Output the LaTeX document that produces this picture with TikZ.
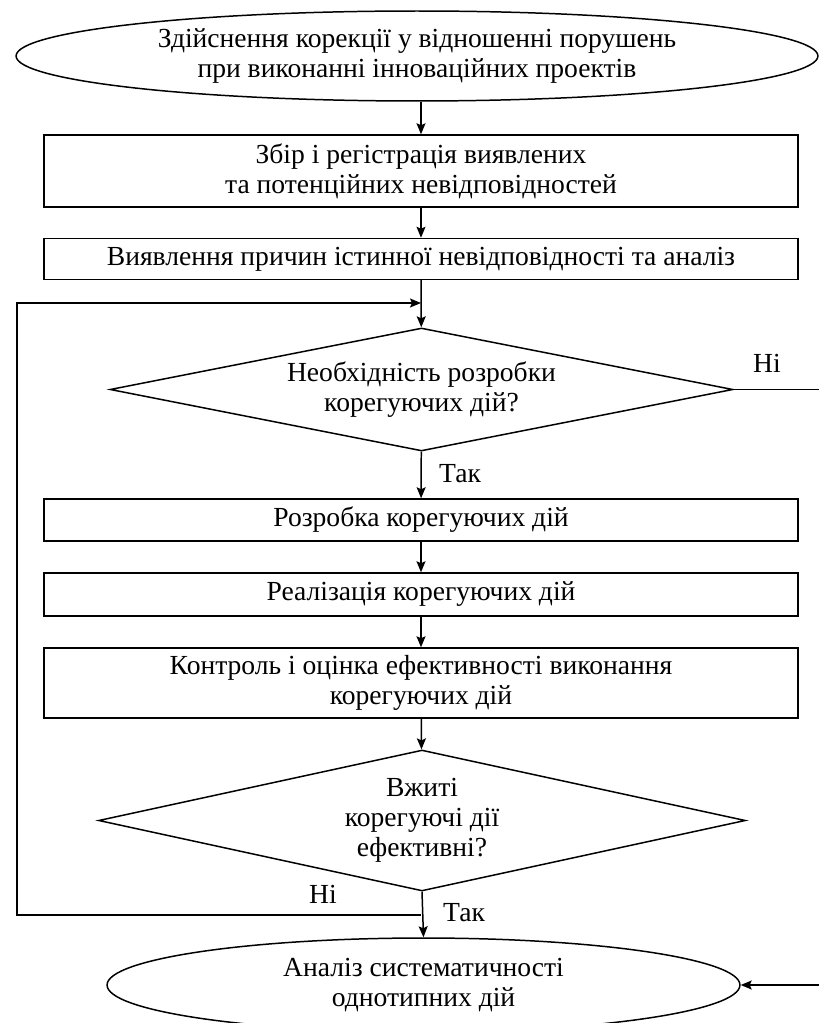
\documentclass[tikz,border=0pt]{standalone}
\usepackage{fontspec}
\setmainfont{Liberation Serif}
\usetikzlibrary{shapes.geometric,arrows.meta}
\begin{document}
\begin{tikzpicture}[x=0.02cm,y=-0.02cm,
  every node/.style={font=\fontsize{15.7}{17.2}\selectfont, align=center},
  line/.style={line width=0.85pt},
  arr/.style={line width=0.85pt,-{Stealth[length=2.2mm,width=1.8mm,inset=0.4mm]}},
  box/.style={draw, line width=0.85pt, rectangle, inner sep=0pt, minimum width=15.08cm},
  oval/.style={draw, line width=0.85pt, ellipse, inner sep=0pt},
  decision/.style={draw, line width=0.85pt, diamond, inner sep=0pt},
  lbl/.style={inner sep=0pt}]
\useasboundingbox (0,0) rectangle (818,1023);

\node[oval, minimum width=16.04cm, minimum height=1.8cm] (top) at (417,56)
  {Здійснення корекції у відношенні порушень\\при виконанні інноваційних проектів};
\node[box, minimum height=1.44cm] (b2) at (421,171)
  {Збір і регістрація виявлених\\та потенційних невідповідностей};
\node[box, minimum height=0.82cm] (b3) at (421,259)
  {Виявлення причин істинної невідповідності та аналіз};
\node[decision, shape aspect=5.07, minimum width=12.46cm, minimum height=2.46cm] (d1) at (421.5,389.5)
  {Необхідність розробки\\корегуючих дій?};
\node[box, minimum height=0.84cm] (b4) at (421,520)
  {Розробка корегуючих дій};
\node[box, minimum height=0.86cm] (b5) at (421,594.5)
  {Реалізація корегуючих дій};
\node[box, minimum height=1.4cm] (b6) at (421,683)
  {Контроль і оцінка ефективності виконання\\корегуючих дій};
\node[decision, shape aspect=4.59, minimum width=12.94cm, minimum height=2.82cm] (d2) at (422,820.5)
  {Вжиті\\корегуючі дії\\ефективні?};
\node[oval, minimum width=12.66cm, minimum height=1.88cm] (e2) at (423.5,985)
  {Аналіз систематичності\\однотипних дій};

\coordinate (m) at (421,303);
\coordinate (j) at (421,915);
\coordinate (jl) at (17,915);
\coordinate (ml) at (17,303);
\coordinate (rno) at (830,389.5);
\coordinate (rin) at (830,985);

\draw[arr] (b2.north |- top.south) -- (b2.north);
\draw[arr] (b2) -- (b3);
\draw[arr] (b3) -- (d1);
\draw[arr] (d1) -- (b4);
\draw[arr] (b4) -- (b5);
\draw[arr] (b5) -- (b6);
\draw[arr] (b6) -- (d2);
\draw[arr] (d2.south) -- (e2.north);
\draw[arr] (j) -- (jl) -- (ml) -- (m);
\draw[line] (d1.east) -- (rno);
\draw[arr] (rin) -- (e2.east);

\node[lbl] (no1) at (767,363) {Ні};
\node[lbl] (yes1) at (460,474) {Так};
\node[lbl] (no2) at (323,894) {Ні};
\node[lbl] (yes2) at (464,913) {Так};
\end{tikzpicture}
\end{document}
